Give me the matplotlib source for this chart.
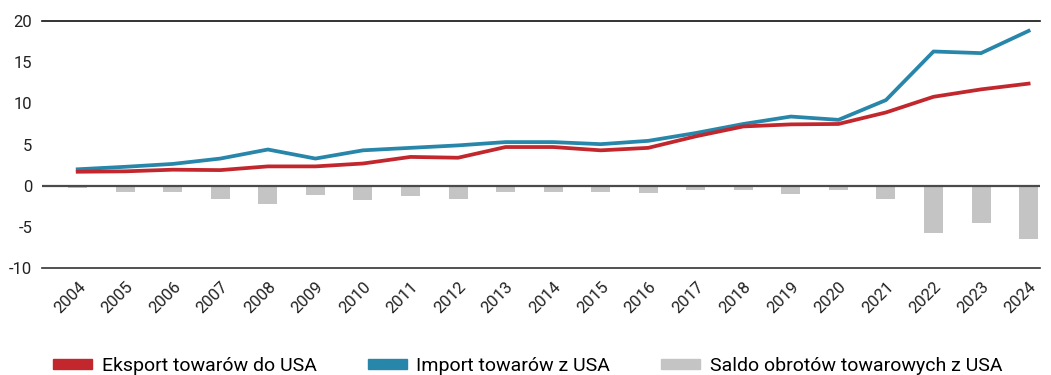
import numpy as np
import matplotlib
matplotlib.use('Agg')
import matplotlib.pyplot as plt
from matplotlib.patches import Patch

# dane (mld USD)
lata = [str(r) for r in range(2004, 2025)]
eksport = [1.7, 1.75, 1.95, 1.9, 2.35, 2.35, 2.7, 3.5, 3.4, 4.7, 4.7, 4.3, 4.6, 6.0, 7.2, 7.45, 7.5, 8.9, 10.8, 11.7, 12.4]
import_ = [2.0, 2.3, 2.65, 3.3, 4.4, 3.3, 4.3, 4.6, 4.9, 5.3, 5.3, 5.05, 5.45, 6.4, 7.5, 8.4, 8.0, 10.4, 16.3, 16.1, 18.8]
saldo = [-0.3, -0.75, -0.75, -1.55, -2.2, -1.1, -1.7, -1.2, -1.6, -0.7, -0.7, -0.8, -0.9, -0.5, -0.55, -1.05, -0.5, -1.55, -5.7, -4.55, -6.5]

plt.rcParams['font.family'] = ['Roboto', 'DejaVu Sans']
plt.rcParams['axes.unicode_minus'] = False

czerwony = '#C1272D'
niebieski = '#2786A9'
szary = '#C4C4C4'

fig = plt.figure(figsize=(10.51, 3.75), dpi=100)
ax = fig.add_axes([0.04, 0.285, 0.95, 0.659])

x = np.arange(len(lata))
ax.bar(x, saldo, width=0.4, color=szary, zorder=1)
ax.plot(x, eksport, color=czerwony, lw=2.7, zorder=3)
ax.plot(x, import_, color=niebieski, lw=2.7, zorder=2)

ax.axhline(0, color='#4a4a4a', lw=1.6, zorder=4)
ax.set_ylim(-10, 20)
ax.set_xlim(-0.75, 20.25)
ax.set_yticks([-10, -5, 0, 5, 10, 15, 20])
ax.set_xticks(x)
ax.set_xticklabels(lata, rotation=45, ha='right', rotation_mode='anchor')
ax.tick_params(length=0, labelsize=12, colors='#222222')
ax.tick_params(axis='x', pad=8)
ax.tick_params(axis='y', pad=7)

for s in ['left', 'right']:
    ax.spines[s].set_visible(False)
ax.spines['top'].set_color('#111111')
ax.spines['top'].set_linewidth(1.2)
ax.spines['bottom'].set_color('#333333')
ax.spines['bottom'].set_linewidth(1.2)

# legenda - trzy osobne pozycje, jak w oryginale
kolory = [czerwony, niebieski, szary]
etykiety = ['Eksport towarów do USA', 'Import towarów z USA', 'Saldo obrotów towarowych z USA']
pozycje = [0.0504, 0.350, 0.629]
for kol, et, px in zip(kolory, etykiety, pozycje):
    fig.legend([Patch(color=kol)], [et], loc='center left', bbox_to_anchor=(px, 0.024),
               frameon=False, fontsize=14, handlelength=2.0, handleheight=0.42,
               handletextpad=0.5, borderaxespad=0, borderpad=0)

fig.savefig('out.png', dpi=100)
